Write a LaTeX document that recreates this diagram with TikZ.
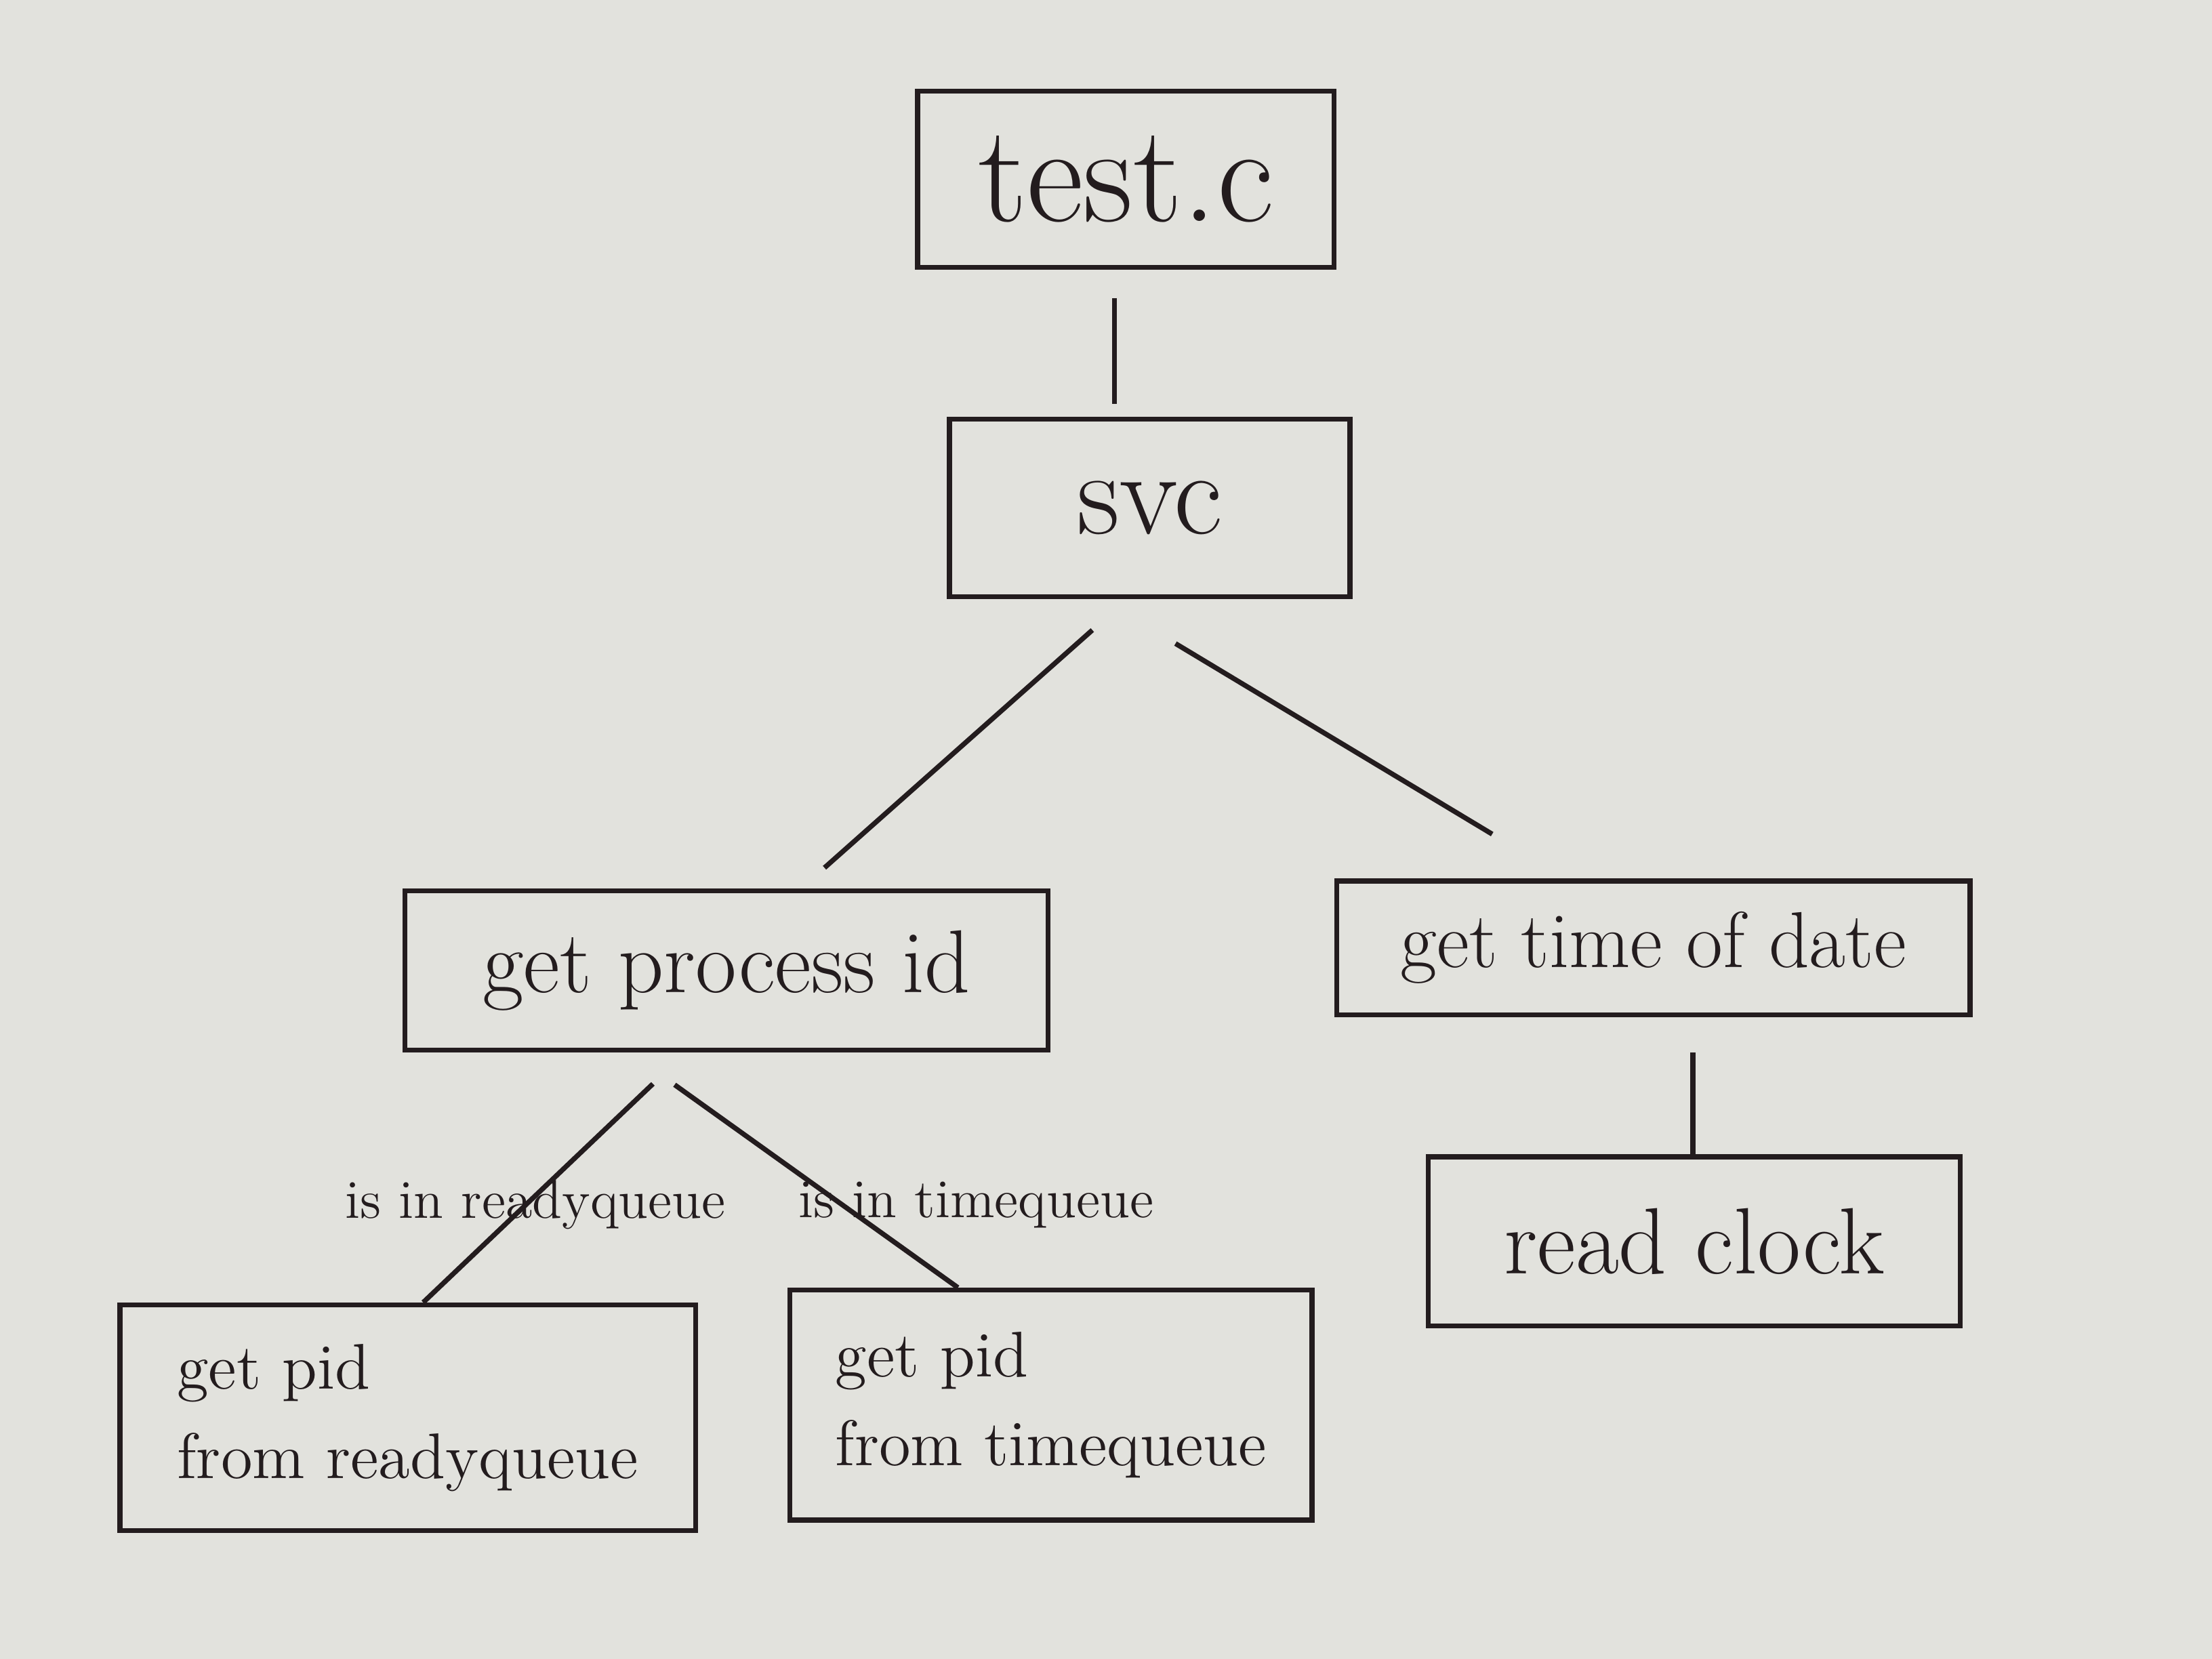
\documentclass[tikz,border=0pt]{standalone}
\usetikzlibrary{calc}
\definecolor{paper}{RGB}{226,226,221}
\definecolor{ink}{RGB}{35,28,30}

\begin{document}
\begin{tikzpicture}[
    box/.style={draw=ink,line width=1pt,text=ink,inner sep=0pt},
    link/.style={draw=ink,line width=1pt},
    cond/.style={text=ink,font=\fontsize{11}{13}\selectfont,inner sep=1pt}
  ]
  \fill[paper] (0,0) rectangle (15.68,11.76);
  \useasboundingbox (0,0) rectangle (15.68,11.76);

  \node[box,minimum width=2.95cm,minimum height=1.25cm,font=\fontsize{28}{32}\selectfont] (test) at (7.98,10.49) {test.c};
  \node[box,minimum width=2.84cm,minimum height=1.26cm,font=\fontsize{24}{28}\selectfont] (svc) at (8.15,8.16) {svc};
  \node[box,minimum width=4.56cm,minimum height=1.13cm,font=\fontsize{18}{22}\selectfont] (gpid) at (5.15,4.88) {get process id};
  \node[box,minimum width=4.49cm,minimum height=0.95cm,font=\fontsize{16}{20}\selectfont] (gtod) at (11.72,5.04) {get time of date};
  \node[box,minimum width=3.77cm,minimum height=1.20cm,font=\fontsize{19}{23}\selectfont] (clock) at (12.01,2.96) {read clock};
  \node[box,minimum width=4.08cm,minimum height=1.60cm,align=left,font=\fontsize{13}{18}\selectfont] (ready) at (2.89,1.71) {get pid\\from readyqueue};
  \node[box,minimum width=3.70cm,minimum height=1.63cm,align=left,font=\fontsize{13}{18}\selectfont] (time) at (7.45,1.80) {get pid\\from timequeue};

  \draw[link,shorten <=0.2cm,shorten >=0.09cm] ([xshift=-0.08cm]test.south) -- ([xshift=-0.25cm]svc.north);
  \draw[link,shorten <=0.33cm,shorten >=0.22cm] ([xshift=-0.16cm]svc.south) -- ([xshift=0.53cm]gpid.north);
  \draw[link,shorten <=0.61cm,shorten >=0.61cm] ([xshift=-0.34cm]svc.south) -- ([xshift=-0.62cm]gtod.north);
  \draw[link,shorten <=0.25cm] ([xshift=0.28cm]gtod.south) -- ([xshift=-0.01cm]clock.north);
  \draw[link,shorten <=0.32cm] ([xshift=-0.29cm]gpid.south) -- ([xshift=0.11cm]ready.north)
    node[cond,pos=0.61,xshift=0.07cm] {is in readyqueue};
  \draw[link,shorten <=0.39cm] ([xshift=-0.685cm]gpid.south) -- ([xshift=-0.66cm]time.north)
    node[cond,pos=0.647,xshift=0.95cm] {is in timequeue};
\end{tikzpicture}
\end{document}
